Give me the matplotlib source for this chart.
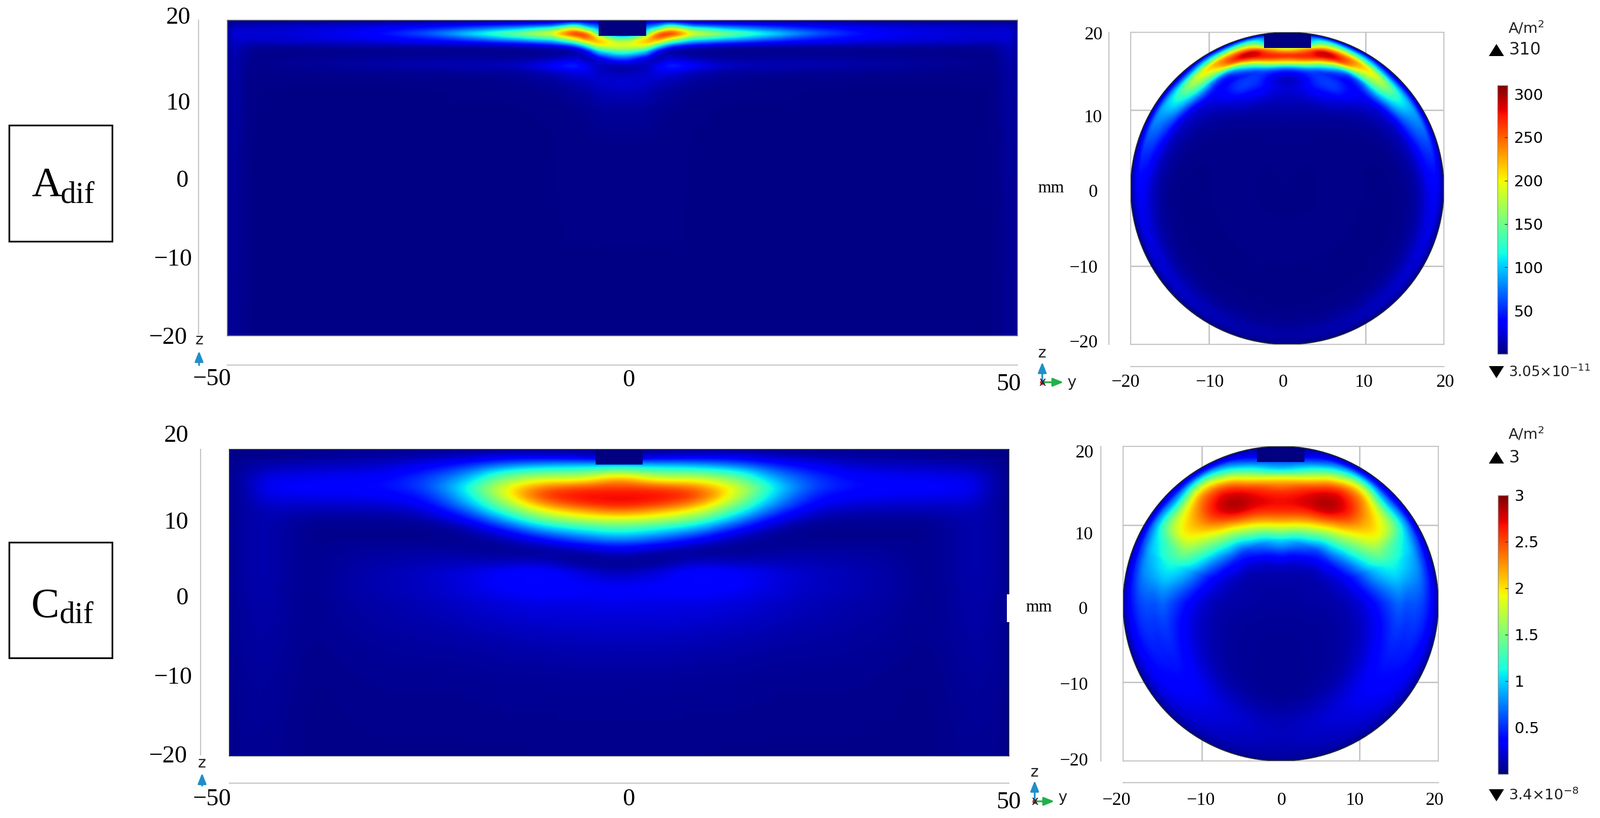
#!/usr/bin/env python
# current density maps, long section + cross section, two electrode setups
import numpy as np
import matplotlib
matplotlib.use('Agg')
import matplotlib.pyplot as plt
from matplotlib.patches import Rectangle, Circle, Polygon

W, H = 3167, 1620
SERIF = 'Liberation Serif'
GREY = '#c4c4c4'
BLUE_AX = '#1f8fc8'
GREEN_AX = '#22b04a'

# ---- A, long section: half the field, mirrored about x=0
a_x = [0, 3, 4.5, 6, 7.5, 9, 13, 20, 25, 32, 40, 46, 47.5, 49, 50]
a_z = [20, 19.4, 18.9, 18.3, 17.8, 17.2, 16.6, 16, 15.1, 14.2, 13.4, 12.3, 10.9, 8.7, 4, -20]
a_long = [
    [2, 10, 10, 4, 4, 4, 4, 3, 3, 2, 2, 2, 2, 2, 2],
    [2, 60, 70, 120, 85, 60, 50, 36, 30, 22, 18, 16, 16, 14, 6],
    [2, 90, 130, 205, 175, 135, 100, 62, 48, 30, 24, 20, 21, 22, 8],
    [2, 130, 255, 275, 240, 195, 160, 100, 65, 36, 27, 22, 24, 26, 10],
    [100, 205, 265, 225, 190, 150, 125, 72, 50, 32, 25, 21, 22, 24, 10],
    [170, 235, 200, 140, 105, 80, 60, 36, 32, 24, 20, 18, 18, 21, 9],
    [190, 185, 105, 45, 28, 22, 10, 10, 10, 10, 8, 7, 10, 18, 8],
    [150, 105, 25, 5, 4, 4, 3, 3, 3, 3, 3, 3, 8, 16, 7],
    [70, 20, 8, 25, 20, 15, 8, 10, 10, 8, 6, 4, 5, 14, 7],
    [8, 15, 35, 55, 50, 40, 20, 14, 14, 10, 7, 4, 5, 13, 6],
    [12, 20, 30, 28, 22, 18, 8, 7, 6, 5, 4, 3, 4, 12, 6],
    [25, 22, 18, 14, 12, 8, 5, 3, 3, 3, 3, 3, 4, 11, 6],
    [18, 15, 10, 8, 6, 4, 3, 3, 2, 2, 2, 2, 4, 11, 6],
    [8, 7, 5, 4, 3, 3, 2, 2, 2, 2, 2, 2, 4, 10, 5],
    [3, 3, 3, 3, 3, 2, 2, 2, 2, 2, 2, 2, 3, 9, 5],
    [2, 2, 2, 2, 2, 2, 2, 2, 2, 2, 2, 2, 3, 6, 4],
]

# ---- C, long section
c_x = [0, 5, 10, 15, 20, 25, 30, 35, 40, 45, 48, 50]
c_z = [20, 19, 18, 17, 16, 15, 14, 13, 12, 11, 10, 9, 8, 7, 6, 5, 4, 2, 0, -5, -10, -20]
c_long = [
    [.04, .05, .06, .05, .05, .04, .04, .04, .03, .03, .03, .02],
    [.12, .25, .3, .3, .2, .15, .1, .09, .07, .05, .04, .03],
    [.9, .9, .85, .7, .45, .3, .2, .17, .15, .12, .08, .04],
    [1.7, 1.4, 1.4, 1.2, .7, .45, .3, .27, .25, .22, .1, .05],
    [2.3, 1.9, 1.9, 1.55, .9, .55, .38, .34, .32, .3, .12, .05],
    [2.55, 2.5, 2.35, 1.85, 1.05, .55, .4, .37, .35, .32, .12, .05],
    [2.7, 2.7, 2.55, 1.8, .95, .45, .33, .31, .3, .28, .11, .05],
    [2.7, 2.6, 2.3, 1.55, .8, .35, .25, .23, .22, .22, .1, .05],
    [2.4, 2.2, 1.9, 1.25, .58, .22, .15, .14, .14, .16, .1, .05],
    [1.9, 1.8, 1.5, .9, .35, .12, .08, .08, .08, .14, .1, .05],
    [1.45, 1.3, 1.05, .55, .15, .05, .05, .05, .05, .13, .1, .05],
    [1.1, .9, .65, .25, .06, .04, .04, .04, .04, .13, .1, .05],
    [.7, .55, .3, .1, .05, .05, .05, .05, .04, .13, .1, .05],
    [.35, .2, .08, .05, .07, .08, .08, .07, .04, .13, .1, .05],
    [.12, .05, .1, .1, .12, .12, .1, .08, .04, .13, .1, .05],
    [.05, .08, .25, .2, .17, .14, .12, .09, .04, .13, .1, .05],
    [.12, .25, .4, .35, .25, .18, .14, .1, .04, .13, .1, .05],
    [.35, .35, .4, .35, .25, .18, .14, .1, .04, .12, .1, .05],
    [.3, .28, .28, .25, .2, .15, .12, .09, .04, .12, .09, .05],
    [.15, .15, .14, .12, .1, .09, .08, .06, .04, .1, .08, .04],
    [.07, .07, .06, .06, .05, .05, .05, .04, .03, .08, .07, .04],
    [.03, .03, .03, .03, .03, .03, .03, .03, .03, .05, .05, .03],
]

# ---- A, cross section: read in polar form, angle from the top, half mirrored
a_theta = [0, 8, 15, 25, 32, 41, 50, 60, 75, 90, 120, 150, 180]
a_r = [20, 19.5, 19, 18.5, 18, 17.5, 17, 16.5, 16, 15.5, 15, 14, 13, 11, 8, 0]
a_cross = [
    [2, 10, 10, 8, 8, 6, 6, 5, 5, 5, 4, 3, 2],
    [2, 80, 110, 80, 90, 50, 55, 50, 35, 22, 15, 10, 7],
    [2, 90, 170, 170, 140, 110, 100, 90, 55, 35, 25, 15, 10],
    [3, 130, 245, 235, 220, 170, 120, 85, 52, 32, 22, 14, 9],
    [170, 230, 310, 255, 210, 180, 125, 80, 50, 30, 20, 12, 8],
    [225, 265, 300, 245, 170, 160, 115, 70, 40, 22, 14, 9, 6],
    [275, 275, 255, 140, 130, 135, 95, 60, 30, 16, 10, 7, 5],
    [240, 240, 170, 70, 60, 100, 70, 40, 20, 12, 7, 5, 4],
    [190, 170, 100, 45, 40, 70, 45, 25, 15, 8, 5, 4, 3],
    [90, 90, 55, 40, 35, 45, 28, 18, 11, 6, 4, 3, 3],
    [45, 50, 55, 55, 40, 30, 20, 15, 8, 4, 3, 3, 2],
    [10, 25, 55, 60, 40, 20, 14, 8, 4, 3, 2, 2, 2],
    [25, 30, 40, 35, 25, 12, 8, 5, 3, 2, 2, 2, 2],
    [15, 14, 12, 10, 8, 5, 4, 3, 2, 2, 2, 2, 2],
    [4, 4, 4, 4, 3, 3, 3, 3, 3, 3, 3, 3, 3],
    [2, 2, 2, 2, 2, 2, 2, 2, 2, 2, 2, 2, 2],
]

# ---- C, cross section
c_theta = [0, 12, 25, 35, 45, 55, 62, 70, 90, 120, 150, 180]
c_r = [20, 19.5, 19, 18, 17, 16, 15, 14, 13, 12, 11, 10, 9, 8, 6, 4, 0]
c_cross = [
    [.1, .1, .12, .15, .15, .15, .12, .1, .1, .08, .06, .05],
    [.12, .2, .4, .45, .35, .4, .35, .3, .25, .15, .1, .08],
    [.15, .3, .8, .9, .6, .75, .65, .5, .4, .25, .15, .1],
    [.6, .8, 1.5, 1.9, 1.2, 1.3, 1.0, .9, .55, .35, .2, .13],
    [.9, 1.4, 2.2, 2.35, 1.85, 1.65, 1.15, 1.0, .6, .4, .22, .15],
    [1.9, 2.0, 2.7, 2.55, 2.1, 1.85, 1.3, 1.15, .55, .42, .25, .15],
    [2.3, 2.55, 2.85, 2.7, 2.2, 1.95, 1.4, 1.2, .65, .42, .25, .13],
    [2.6, 2.7, 2.95, 2.7, 2.2, 1.85, 1.55, 1.15, .55, .38, .2, .1],
    [2.7, 2.75, 2.85, 2.5, 2.05, 1.65, 1.4, 1.05, .45, .3, .15, .08],
    [2.65, 2.6, 2.5, 2.15, 1.75, 1.4, 1.2, .9, .35, .22, .1, .05],
    [2.4, 2.3, 2.05, 1.7, 1.45, 1.15, .95, .7, .27, .16, .08, .05],
    [2.0, 1.85, 1.55, 1.3, 1.1, .85, .7, .5, .2, .12, .06, .05],
    [1.5, 1.3, 1.15, .85, .8, .6, .5, .35, .16, .1, .06, .05],
    [1.05, .9, .7, .55, .5, .4, .3, .25, .13, .08, .06, .05],
    [.4, .3, .25, .2, .15, .15, .12, .12, .1, .07, .06, .05],
    [.1, .12, .1, .1, .1, .1, .1, .1, .1, .07, .06, .05],
    [.08, .08, .08, .08, .08, .08, .08, .08, .08, .08, .08, .08],
]

a_ticks = [50, 100, 150, 200, 250, 300]
c_ticks = [0.5, 1, 1.5, 2, 2.5, 3]
c_ticklabels = ['0.5', '1', '1.5', '2', '2.5', '3']

STEP = 12  # mesh cells drawn per table cell


def px_axes(fig, x0, y0, x1, y1):
    return fig.add_axes([x0 / W, 1 - y1 / H, (x1 - x0) / W, (y1 - y0) / H])


def mirror(xs, vals):
    xs = np.array(xs, float)
    vals = np.array(vals, float)
    return np.r_[-xs[::-1], xs[1:]], np.c_[vals[:, ::-1], vals[:, 1:]]


def soften(line):
    # box of one table cell, so the read-off table does not show as facets
    kernel = np.ones(STEP + 1)
    kernel[[0, -1]] = 0.5
    return np.convolve(np.pad(line, STEP // 2, mode='edge'), kernel / STEP, mode='valid')


def draw_grid(xs, ys, vals):
    ix = np.linspace(0, len(xs) - 1, (len(xs) - 1) * STEP + 1)
    iy = np.linspace(0, len(ys) - 1, (len(ys) - 1) * STEP + 1)
    fine = np.array([np.interp(ix, np.arange(len(xs)), row) for row in vals])
    fine = np.array([np.interp(iy, np.arange(len(ys)), col) for col in fine.T]).T
    fine = np.apply_along_axis(soften, 1, fine)
    fine = np.apply_along_axis(soften, 0, fine)
    return np.interp(ix, np.arange(len(xs)), xs), np.interp(iy, np.arange(len(ys)), ys), fine


def long_panel(fig, box, xs, zs, vals, vmax, edge):
    ax = px_axes(fig, *box)
    xx, field = mirror(xs, vals)
    xf, zf, field = draw_grid(xx, zs, field)
    X, Z = np.meshgrid(xf, zf)
    ax.pcolormesh(X, Z, field, shading='gouraud', cmap='jet', vmin=0, vmax=vmax)
    ax.add_patch(Rectangle((-3, 18), 6, 2, color=plt.cm.jet(0.0), lw=0))
    ax.set_xlim(-50, 50)
    ax.set_ylim(-20, 20)
    ax.set_xticks([])
    ax.set_yticks([])
    for s in ax.spines.values():
        s.set_color(edge)
        s.set_linewidth(1.2)
    return ax


def cross_panel(fig, box, thetas, rs, vals, vmax):
    ax = px_axes(fig, *box)
    tt, field = mirror(thetas, vals)
    tf, rf, field = draw_grid(tt, rs, field)
    T, R = np.meshgrid(np.radians(tf), rf)
    disc = Circle((0, 0), 20, transform=ax.transData, fc='none', ec='#202830', lw=1.5, zorder=4)
    m = ax.pcolormesh(R * np.sin(T), R * np.cos(T), field, shading='gouraud',
                      cmap='jet', vmin=0, vmax=vmax, zorder=2)
    ax.add_patch(disc)
    el = Rectangle((-3, 18), 6, 2, color=plt.cm.jet(0.0), lw=0, zorder=3)
    ax.add_patch(el)
    el.set_clip_path(disc)
    ax.set_xlim(-20, 20)
    ax.set_ylim(-20, 20)
    ax.set_xticks([-10, 10])
    ax.set_yticks([-10, 10])
    ax.tick_params(length=0, labelleft=False, labelbottom=False)
    ax.grid(color=GREY, lw=2, zorder=1)
    ax.set_axisbelow(True)
    for s in ax.spines.values():
        s.set_color(GREY)
        s.set_linewidth(1.6)
    return ax, m


def cbar(fig, box, mesh, ticks, labels=None):
    cax = px_axes(fig, *box)
    cb = fig.colorbar(mesh, cax=cax)
    cb.set_ticks(ticks)
    if labels:
        cb.set_ticklabels(labels)
    cb.ax.tick_params(direction='in', length=4, width=1, color='#303030', labelsize=22, pad=9)
    cb.outline.set_edgecolor('#909090')
    cb.outline.set_linewidth(1)


def label(ov, x, y, s, size=35, ha='center'):
    ov.text(x, y + 3, s, family=SERIF, fontsize=size, ha=ha, va='center', color='black')


def arrow(ov, p0, p1, col):
    ov.annotate('', xy=p1, xytext=p0,
                arrowprops=dict(arrowstyle='-|>,head_width=0.28,head_length=0.7', color=col,
                                lw=2.5, shrinkA=0, shrinkB=0, mutation_scale=18))


def triad(ov, x, y, ztop, xright, zy, yx, yy):
    arrow(ov, (x, y), (x, ztop), BLUE_AX)
    arrow(ov, (x, y), (xright, y), GREEN_AX)
    ov.plot([x], [y], 'o', ms=7, color='#e0103c', mew=0)
    ov.text(x, y, 'x', fontsize=17, ha='center', va='center', color='#202020')
    ov.text(x, zy, 'z', fontsize=22, ha='center', va='center', color='#202020')
    ov.text(yx, yy, 'y', fontsize=22, ha='center', va='center', color='#202020')


def legend_marks(ov, top_y, bot_y, top_txt, bot_txt, head_y, bot_size):
    ov.text(3021, head_y, 'A/m$^2$', fontsize=21, ha='center', va='center', color='#202020')
    ov.add_patch(Polygon([[2947, top_y + 12], [2977, top_y + 12], [2962, top_y - 12]], color='black', lw=0))
    ov.add_patch(Polygon([[2947, bot_y - 12], [2977, bot_y - 12], [2962, bot_y + 12]], color='black', lw=0))
    ov.text(2986, top_y, top_txt, fontsize=24, ha='left', va='center', color='#202020')
    ov.text(2986, bot_y, bot_txt, fontsize=bot_size, ha='left', va='center', color='#202020')


fig = plt.figure(figsize=(W / 100, H / 100), dpi=100, facecolor='white')

long_panel(fig, (450, 40, 2014, 665), a_x, a_z, a_long, 310, '#707070')
long_panel(fig, (454, 890, 1997, 1497), c_x, c_z, c_long, 3, '#202830')
_, mesh_a = cross_panel(fig, (2238, 64, 2858, 682), a_theta, a_r, a_cross, 310)
_, mesh_c = cross_panel(fig, (2223, 884, 2847, 1507), c_theta, c_r, c_cross, 3)
cbar(fig, (2964, 169, 2984, 701), mesh_a, a_ticks)
cbar(fig, (2965, 981, 2985, 1533), mesh_c, c_ticks, c_ticklabels)

# everything pasted round the plots sits on one pixel-sized overlay
ov = fig.add_axes([0, 0, 1, 1], facecolor='none')
ov.set_xlim(0, W)
ov.set_ylim(H, 0)
ov.axis('off')

# long section scales
for xl, yl, x0, x1, y0, y1 in [(393, 723, 450, 2014, 40, 662), (397, 1551, 454, 1997, 890, 1495)]:
    ov.plot([x0, x1], [yl, yl], color=GREY, lw=1.6)
    ov.plot([xl, xl], [y0, y1], color=GREY, lw=1.6)
for x, y, s in [(353, 32, '20'), (353, 202, '10'), (360, 355, '0'), (343, 511, '−10'), (333, 666, '−20'),
                (420, 748, '−50'), (1244, 750, '0'), (1996, 758, '50'),
                (349, 860, '20'), (349, 1032, '10'), (360, 1182, '0'), (343, 1339, '−10'), (333, 1495, '−20'),
                (420, 1580, '−50'), (1244, 1580, '0'), (1996, 1586, '50')]:
    label(ov, x, y, s)

# cross section scales
for xl, yl, x0, x1, y0, y1 in [(2195, 726, 2238, 2858, 64, 682), (2179, 1550, 2223, 2847, 884, 1507)]:
    ov.plot([x0, x1], [yl, yl], color=GREY, lw=1.6)
    ov.plot([xl, xl], [y0, y1], color=GREY, lw=1.6)
for x, y, s in [(2164, 67, '20'), (2164, 230, '10'), (2164, 379, '0'), (2144, 528, '−10'), (2144, 677, '−20'),
                (2227, 754, '−20'), (2394, 754, '−10'), (2540, 754, '0'), (2700, 754, '10'), (2860, 754, '20'),
                (2146, 894, '20'), (2146, 1057, '10'), (2144, 1205, '0'), (2125, 1355, '−10'), (2125, 1505, '−20'),
                (2209, 1582, '−20'), (2376, 1582, '−10'), (2537, 1582, '0'), (2682, 1582, '10'), (2839, 1582, '20')]:
    label(ov, x, y, s, size=26)
label(ov, 2080, 370, 'mm', size=24)
label(ov, 2056, 1200, 'mm', size=24)
ov.add_patch(Rectangle((1993, 1177), 6, 55, color='white', lw=0))

# axis triads
arrow(ov, (394, 723), (394, 695), BLUE_AX)
ov.text(395, 673, 'z', fontsize=22, ha='center', va='center', color='#202020')
arrow(ov, (400, 1556), (400, 1531), BLUE_AX)
ov.text(400, 1511, 'z', fontsize=22, ha='center', va='center', color='#202020')
triad(ov, 2063, 757, 717, 2105, 700, 2121, 757)
triad(ov, 2048, 1587, 1546, 2087, 1530, 2103, 1579)

legend_marks(ov, 99, 737, '310', '3.05×10$^{-11}$', 56, 20)
legend_marks(ov, 906, 1575, '3', '3.4×10$^{-8}$', 860, 21)

# case boxes
for y0, y1, cap, cx, base, sub_x, sub_base in [(248, 478, 'A', 62, 388, 120, 402), (1074, 1303, 'C', 62, 1222, 118, 1234)]:
    ov.add_patch(Rectangle((18, y0), 204, y1 - y0, fc='white', ec='black', lw=2.4))
    ov.text(cx, base, cap, family=SERIF, fontsize=60, ha='left', va='baseline')
    ov.text(sub_x, sub_base, 'dif', family=SERIF, fontsize=44, ha='left', va='baseline')

fig.savefig('out.png', dpi=100)
